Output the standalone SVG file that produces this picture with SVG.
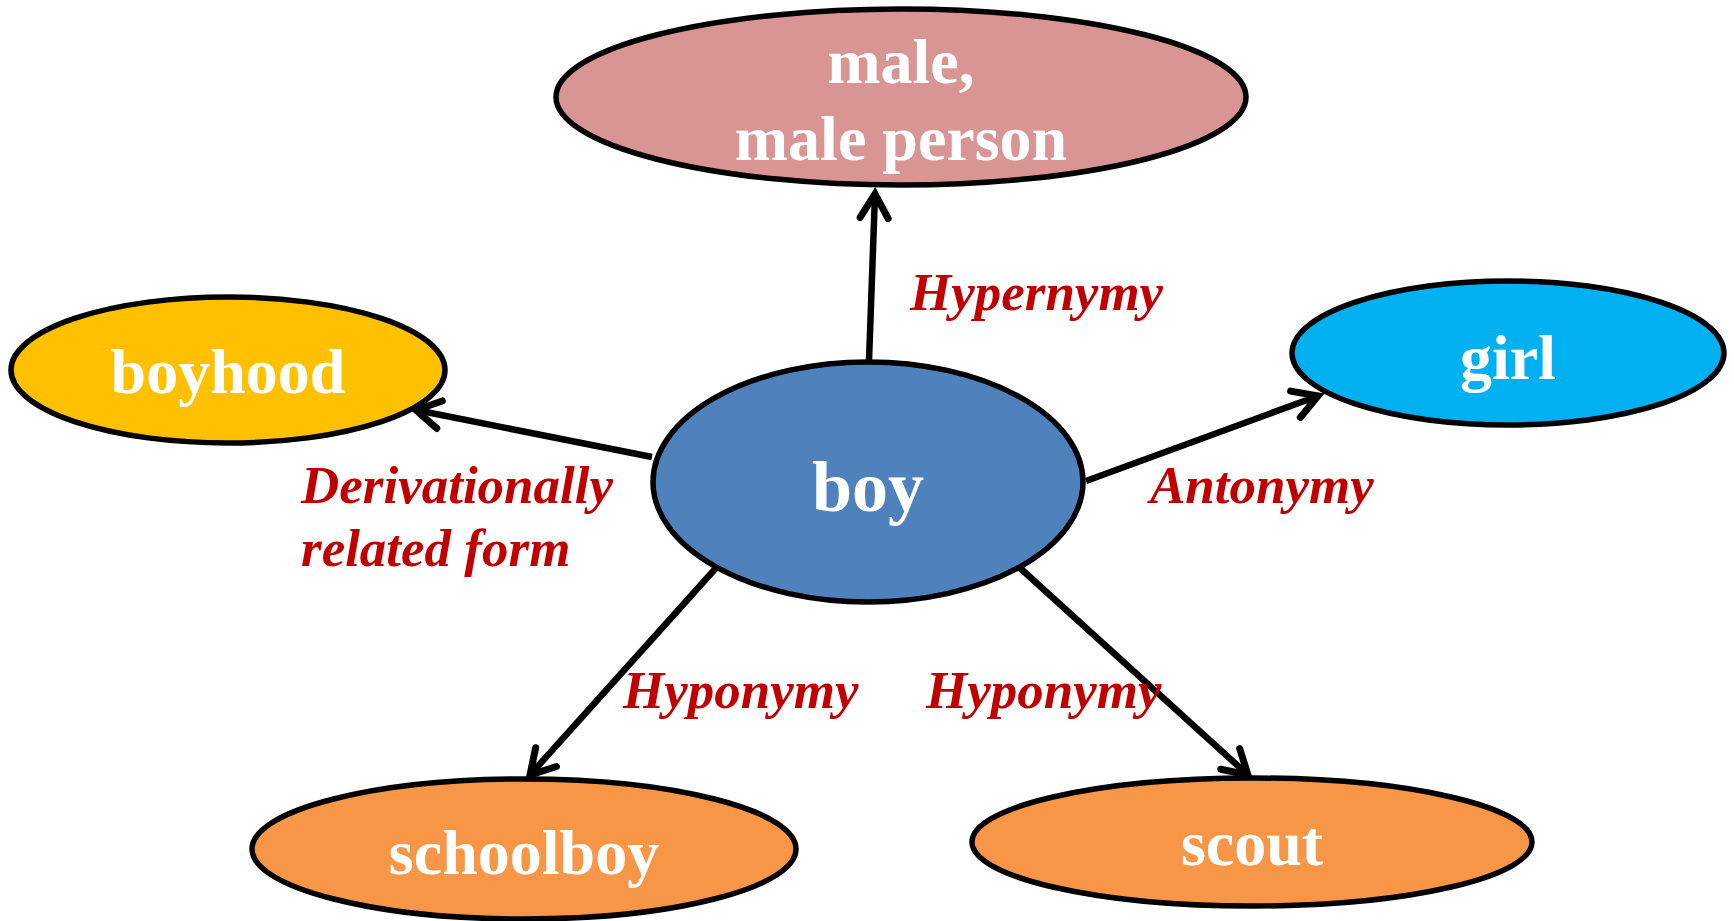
<svg xmlns="http://www.w3.org/2000/svg" width="1734" height="921" viewBox="0 0 1734 921">
<style>
.node ellipse{stroke:#000;stroke-width:5.5}
.nt{font-family:"Liberation Serif","Times New Roman",serif;font-weight:bold;fill:#fff;text-anchor:middle;font-size:64px}
.lbl{font-family:"Liberation Serif","Times New Roman",serif;font-weight:bold;font-style:italic;fill:#C00000;font-size:53px}
.edge{stroke:#000;stroke-width:6.5;fill:none;marker-end:url(#arr)}
</style>
<defs>
<marker id="arr" markerUnits="userSpaceOnUse" viewBox="-32 -22 40 44" refX="0" refY="0" markerWidth="40" markerHeight="44" orient="auto">
<path d="M-24,-14 L0,0 L-24,14" fill="none" stroke="#000" stroke-width="7" stroke-linecap="round" stroke-linejoin="miter"/>
</marker>
</defs>
<g id="connectors">
<line class="edge" x1="869" y1="361" x2="875" y2="194"/>
<line class="edge" x1="652" y1="457" x2="416" y2="410"/>
<line class="edge" x1="1086" y1="481" x2="1318" y2="396"/>
<line class="edge" x1="716" y1="568" x2="530" y2="775"/>
<line class="edge" x1="1020" y1="568" x2="1248" y2="775"/>
</g>
<g id="labels">
<text class="lbl" x="910" y="310">Hypernymy</text>
<text class="lbl" x="1150" y="503">Antonymy</text>
<text class="lbl" x="301" y="503">Derivationally</text>
<text class="lbl" x="301" y="566">related form</text>
<text class="lbl" x="623" y="708">Hyponymy</text>
<text class="lbl" x="926" y="708">Hyponymy</text>
</g>
<g id="node-male" class="node">
<ellipse cx="901" cy="97" rx="345" ry="88" fill="#D99594"/>
<text class="nt" x="901" y="83">male,</text>
<text class="nt" x="901" y="160">male person</text>
</g>
<g id="node-boyhood" class="node">
<ellipse cx="228" cy="370" rx="217" ry="73" fill="#FFC000"/>
<text class="nt" x="228" y="393">boyhood</text>
</g>
<g id="node-girl" class="node">
<ellipse cx="1508" cy="353" rx="216" ry="72" fill="#00B0F0"/>
<text class="nt" x="1508" y="379">girl</text>
</g>
<g id="node-boy" class="node">
<ellipse cx="868" cy="482" rx="215" ry="120" fill="#4F81BD"/>
<text class="nt" x="868" y="511" style="font-size:72px">boy</text>
</g>
<g id="node-schoolboy" class="node">
<ellipse cx="524" cy="849" rx="272" ry="70" fill="#F79646"/>
<text class="nt" x="524" y="874">schoolboy</text>
</g>
<g id="node-scout" class="node">
<ellipse cx="1252" cy="842" rx="280" ry="64" fill="#F79646"/>
<text class="nt" x="1252" y="865">scout</text>
</g>
</svg>
